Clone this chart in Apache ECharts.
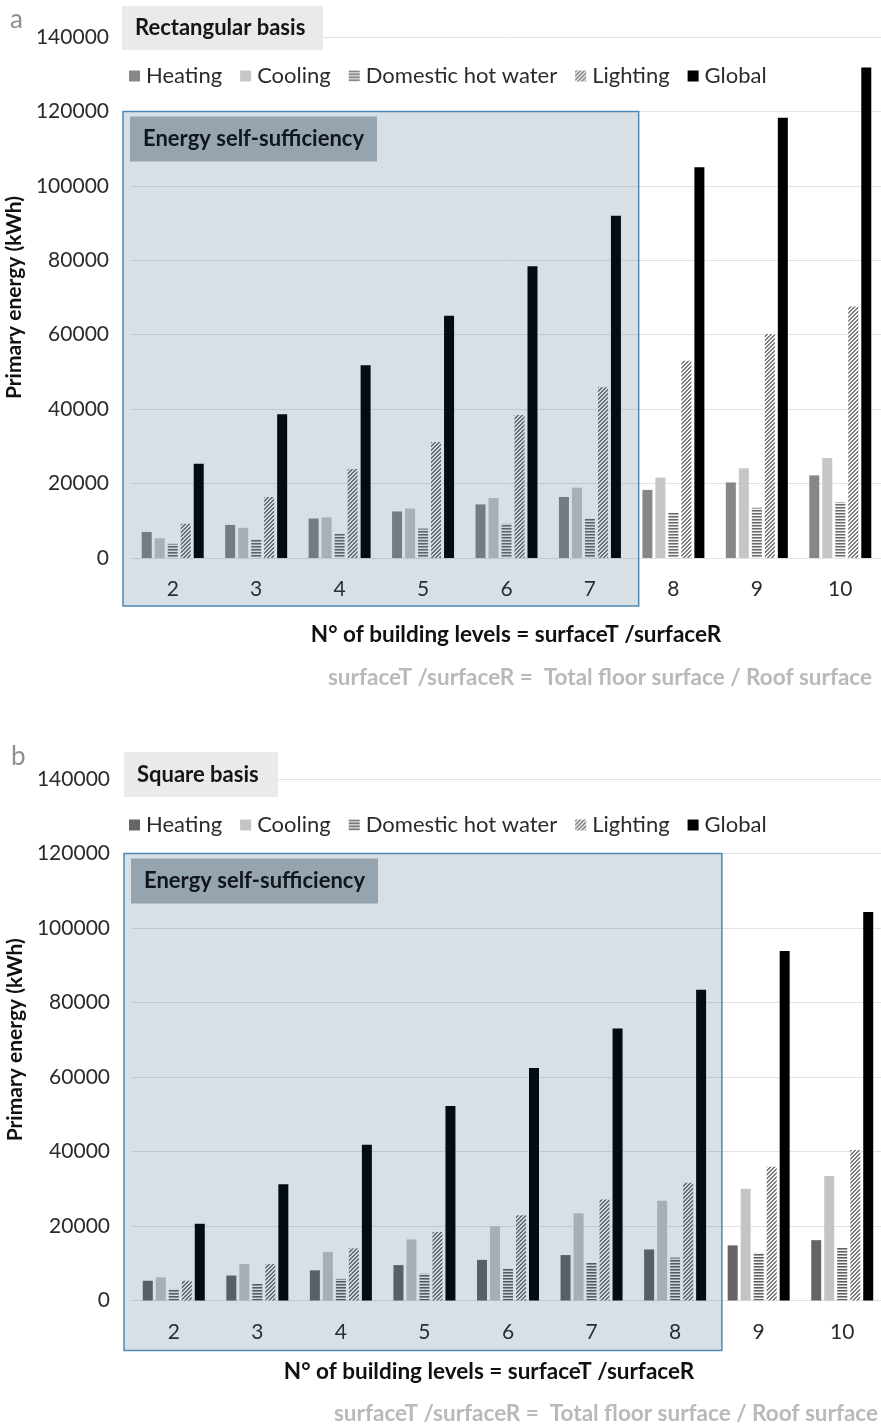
<!DOCTYPE html>
<html>
<head>
<meta charset="utf-8">
<script src="https://cdn.jsdelivr.net/npm/echarts@6/dist/echarts.min.js"></script>
<style>
  html, body { margin: 0; padding: 0; background: #ffffff; }
  #chart { width: 881px; height: 1428px; }
</style>
</head>
<body>
<div id="chart"></div>
<script>
// Building levels (surfaceT / surfaceR)
const levels = ['2', '3', '4', '5', '6', '7', '8', '9', '10'];
const yTicks = [0, 20000, 40000, 60000, 80000, 100000, 120000, 140000];

// (a) Rectangular basis, primary energy in kWh
const rectHeating  = [7000, 8900, 10600, 12500, 14400, 16400, 18300, 20300, 22200];
const rectCooling  = [5300, 8100, 10900, 13300, 16100, 18900, 21600, 24100, 26900];
const rectHotWater = [3800, 5100, 6500, 7900, 9200, 10700, 12200, 13500, 15000];
const rectLighting = [9200, 16400, 23900, 31200, 38400, 45900, 53000, 60200, 67600];
const rectGlobal   = [25300, 38600, 51800, 65100, 78400, 92000, 105000, 118300, 131800];
const rectSelfSufficientUpTo = '7';

// (b) Square basis, primary energy in kWh
const sqHeating  = [5300, 6700, 8100, 9500, 10900, 12200, 13700, 14800, 16200];
const sqCooling  = [6200, 9800, 13000, 16400, 19900, 23400, 26800, 30000, 33400];
const sqHotWater = [3100, 4500, 5800, 7200, 8600, 10100, 11500, 12800, 14100];
const sqLighting = [5300, 9800, 14000, 18400, 22900, 27100, 31600, 35900, 40400];
const sqGlobal   = [20600, 31200, 41800, 52200, 62400, 73000, 83400, 93800, 104300];
const sqSelfSufficientUpTo = '8';

const seriesNames = ['Heating', 'Cooling', 'Domestic hot water', 'Lighting', 'Global'];

const FONT = 'Lato, "Open Sans", sans-serif';

// Pixel patterns for the hatched bars
function hexRGB(h) {
  return [parseInt(h.slice(1, 3), 16), parseInt(h.slice(3, 5), 16), parseInt(h.slice(5, 7), 16)];
}
function pixelPattern(w, h, pick) {
  const c = document.createElement('canvas');
  c.width = w; c.height = h;
  const g = c.getContext('2d');
  const img = g.createImageData(w, h);
  for (let y = 0; y < h; y++) {
    for (let x = 0; x < w; x++) {
      const rgb = hexRGB(pick(x, y));
      const i = (y * w + x) * 4;
      img.data[i] = rgb[0]; img.data[i + 1] = rgb[1]; img.data[i + 2] = rgb[2]; img.data[i + 3] = 255;
    }
  }
  g.putImageData(img, 0, 0);
  return { image: c, repeat: 'repeat' };
}
function horizontalStripes(dark, mid, light) {
  return pixelPattern(4, 3, (x, y) => (y === 0 ? dark : (y === 1 ? mid : light)));
}
function diagonalHatch(dark, light) {
  return pixelPattern(4, 4, (x, y) => (((x + y) % 4) < 2 ? dark : light));
}

const paletteA = {
  'Heating': '#878787',
  'Cooling': '#c6c6c6',
  'Domestic hot water': horizontalStripes('#6a6a6a', '#a8a8a8', '#f2f2f2'),
  'Lighting': diagonalHatch('#7a7a7a', '#f4f4f4'),
  'Global': '#000000'
};
const paletteB = {
  'Heating': '#656565',
  'Cooling': '#c4c4c4',
  'Domestic hot water': horizontalStripes('#5e5e5e', '#a0a0a0', '#f2f2f2'),
  'Lighting': diagonalHatch('#777777', '#f4f4f4'),
  'Global': '#000000'
};

function barSeries(panel, values, palette) {
  return values.map((vals, i) => ({
    name: seriesNames[i],
    type: 'bar',
    xAxisIndex: panel,
    yAxisIndex: panel,
    data: vals,
    barWidth: 10,
    barGap: '30%',
    itemStyle: { color: palette[seriesNames[i]] },
    emphasis: { disabled: true },
    z: 2
  }));
}

function legendFor(top, palette) {
  return {
    left: 124,
    top: top,
    icon: 'rect',
    itemWidth: 11,
    itemHeight: 11,
    itemGap: 18,
    textStyle: { fontFamily: FONT, fontSize: 22, color: '#2b2b2b', padding: [0, 0, 0, 1] },
    data: seriesNames.map(n => ({ name: n, itemStyle: { color: palette[n] } })),
    selectedMode: false
  };
}

function xAxisFor(gridIndex) {
  return {
    type: 'category',
    gridIndex: gridIndex,
    data: levels,
    axisLine: { show: false },
    axisTick: { show: false },
    axisLabel: { fontFamily: FONT, fontSize: 21, color: '#2b2b2b', margin: 21 }
  };
}

function yAxisFor(gridIndex) {
  return {
    type: 'value',
    gridIndex: gridIndex,
    min: yTicks[0],
    max: yTicks[yTicks.length - 1],
    interval: yTicks[1] - yTicks[0],
    axisLine: { show: false },
    axisTick: { show: false },
    axisLabel: { fontFamily: FONT, fontSize: 21, color: '#2b2b2b', margin: 22, formatter: v => String(v) },
    splitLine: { lineStyle: { color: '#e2e2e2', width: 1 } },
    name: 'Primary energy (kWh)',
    nameLocation: 'middle',
    nameGap: 104,
    nameTextStyle: { fontFamily: FONT, fontSize: 21, fontWeight: 'bold', color: '#111111' }
  };
}

const chart = echarts.init(document.getElementById('chart'), null, { renderer: 'canvas' });

chart.setOption({
  animation: false,
  backgroundColor: '#ffffff',
  grid: [
    { left: 131, top: 37, width: 751, height: 521, containLabel: false, outerBoundsMode: 'none' },
    { left: 132, top: 779, width: 752, height: 521.5, containLabel: false, outerBoundsMode: 'none' }
  ],
  xAxis: [xAxisFor(0), xAxisFor(1)],
  yAxis: [yAxisFor(0), yAxisFor(1)],
  legend: [legendFor(60, paletteA), legendFor(809, paletteB)],
  series: [
    ...barSeries(0, [rectHeating, rectCooling, rectHotWater, rectLighting, rectGlobal], paletteA),
    ...barSeries(1, [sqHeating, sqCooling, sqHotWater, sqLighting, sqGlobal], paletteB)
  ]
});

// Panel annotations: panel letter, basis title, self-sufficiency zone and axis captions
function panelGraphics(p) {
  const xPix = v => chart.convertToPixel({ xAxisIndex: p.index }, v);
  const yPix = v => chart.convertToPixel({ yAxisIndex: p.index }, v);
  const band = xPix(levels[1]) - xPix(levels[0]);
  const zoneLeft = xPix(levels[0]) - band / 2 - p.padLeft;
  const zoneRight = xPix(p.upTo) + band / 2 + p.padRight;
  const zoneTop = yPix(120000);
  const zoneBottom = yPix(0) + p.padBottom;
  const els = [];
  els.push({
    type: 'text', z: 100,
    style: { text: p.letter, x: p.letterX, y: p.letterY, fontFamily: FONT, fontSize: 26, fill: '#8f8f8f', verticalAlign: 'middle' }
  });
  els.push({
    type: 'rect', z: 100,
    shape: { x: p.titleBox[0], y: p.titleBox[1], width: p.titleBox[2], height: p.titleBox[3] },
    style: { fill: '#ebe9e9' }
  });
  els.push({
    type: 'text', z: 101,
    style: { text: p.title, x: p.titleBox[0] + 13, y: p.titleBox[1] + p.titleBox[3] / 2, fontFamily: FONT, fontSize: 22, fontWeight: 'bold', fill: '#151515', verticalAlign: 'middle' }
  });
  els.push({
    type: 'rect', z: 100,
    shape: { x: zoneLeft, y: zoneTop, width: zoneRight - zoneLeft, height: zoneBottom - zoneTop },
    style: { fill: 'rgba(22,67,100,0.17)', stroke: '#4f88b3', lineWidth: 1.5 }
  });
  els.push({
    type: 'rect', z: 101,
    shape: { x: zoneLeft + 7, y: zoneTop + 5, width: 247, height: 45 },
    style: { fill: '#95a4af' }
  });
  els.push({
    type: 'text', z: 102,
    style: { text: 'Energy self-sufficiency', x: zoneLeft + 20, y: zoneTop + 27.5, fontFamily: FONT, fontSize: 22, fontWeight: 'bold', fill: '#10161c', verticalAlign: 'middle' }
  });
  els.push({
    type: 'text', z: 100,
    style: { text: 'N\u00b0 of building levels = surfaceT /surfaceR', x: p.captionX, y: p.captionY, fontFamily: FONT, fontSize: 22.5, fontWeight: 'bold', fill: '#111111', align: 'center', verticalAlign: 'middle' }
  });
  els.push({
    type: 'text', z: 100,
    style: { text: 'surfaceT /surfaceR =  Total floor surface / Roof surface', x: p.noteRight, y: p.noteY, fontFamily: FONT, fontSize: 22.5, fontWeight: 'bold', fill: '#b9b9b9', align: 'right', verticalAlign: 'middle' }
  });
  return els;
}

chart.setOption({
  graphic: [
    ...panelGraphics({
      index: 0, letter: 'a', letterX: 10, letterY: 20, title: 'Rectangular basis',
      titleBox: [122, 6, 201, 44], upTo: rectSelfSufficientUpTo,
      padLeft: 8, padRight: 7, padBottom: 48,
      captionX: 516, captionY: 635, noteRight: 872, noteY: 678
    }),
    ...panelGraphics({
      index: 1, letter: 'b', letterX: 11, letterY: 757, title: 'Square basis',
      titleBox: [124, 752, 154, 45], upTo: sqSelfSufficientUpTo,
      padLeft: 8, padRight: 5, padBottom: 50,
      captionX: 489, captionY: 1372, noteRight: 878, noteY: 1414
    })
  ]
});
</script>
</body>
</html>
